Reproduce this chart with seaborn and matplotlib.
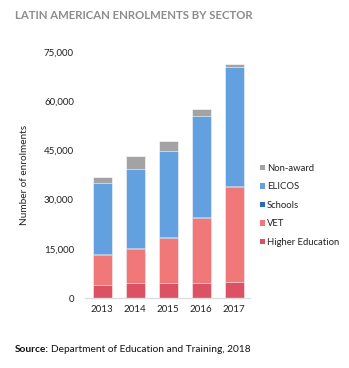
import matplotlib
matplotlib.use("Agg")
import matplotlib.pyplot as plt
from matplotlib.patches import Patch
import numpy as np
import pandas as pd
import seaborn as sns

years = ["2013", "2014", "2015", "2016", "2017"]
higher_education = [4000, 4600, 4600, 4700, 5000]
vet = [9200, 10400, 13600, 19600, 28900]
schools = [300, 200, 400, 300, 400]
elicos = [21500, 24000, 26300, 30800, 36000]
non_award = [1800, 4100, 3000, 2100, 1000]

sectors = ["Higher Education", "VET", "Schools", "ELICOS", "Non-award"]
series = [higher_education, vet, schools, elicos, non_award]
colors = {
    "Higher Education": "#dc5264",
    "VET": "#f07878",
    "Schools": "#2a6cb8",
    "ELICOS": "#62a0e0",
    "Non-award": "#a3a3a3",
}
y_ticks = [0, 15000, 30000, 45000, 60000, 75000]

sns.set_theme(style="white")
plt.rcParams["font.family"] = ["Lato", "DejaVu Sans"]

fig = plt.figure(figsize=(3.49, 3.68), dpi=100)
ax = fig.add_axes([0.2436, 0.1894, 0.4728, 0.6701])

# stacked bars: draw cumulative totals from the top layer down
cum = np.cumsum(np.array(series), axis=0)
for i in reversed(range(len(sectors))):
    df = pd.DataFrame({"year": years, "value": cum[i]})
    sns.barplot(data=df, x="year", y="value", color=colors[sectors[i]],
                width=0.58, saturation=1, edgecolor="white", linewidth=0.4,
                ax=ax)

ax.set_ylim(0, 75000)
ax.set_xlim(-0.52, 4.48)
ax.set_yticks(y_ticks)
ax.set_yticklabels([f"{v:,}" for v in y_ticks])
ax.tick_params(axis="both", length=0, labelsize=7, colors="#222222")
ax.tick_params(axis="y", pad=8)
ax.tick_params(axis="x", pad=5)
ax.set_xlabel("")
ax.set_ylabel("Number of enrolments", fontsize=7.2, color="#222222", labelpad=11)
for side in ["top", "right", "left"]:
    ax.spines[side].set_visible(False)
ax.spines["bottom"].set_color("#dddddd")
ax.spines["bottom"].set_linewidth(1.0)

handles = [Patch(facecolor=colors[s], edgecolor="none") for s in reversed(sectors)]
fig.legend(handles, list(reversed(sectors)), loc="center left",
           bbox_to_anchor=(0.745, 0.442), frameon=False, fontsize=6.8,
           handlelength=0.55, handleheight=0.55, handletextpad=0.2,
           labelspacing=1.0, borderpad=0, borderaxespad=0,
           labelcolor="#222222")

fig.text(0.043, 0.957, "LATIN AMERICAN ENROLMENTS BY SECTOR", fontsize=8.2,
         fontweight="bold", color="#8c8c8c", ha="left", va="center")

fig.text(0.043, 0.049, "Source:", fontsize=7.3, fontweight="bold",
         color="#111111", ha="left", va="center")
fig.text(0.145, 0.049, "Department of Education and Training, 2018",
         fontsize=7.3, color="#111111", ha="left", va="center")

fig.savefig("out.png", dpi=100)
